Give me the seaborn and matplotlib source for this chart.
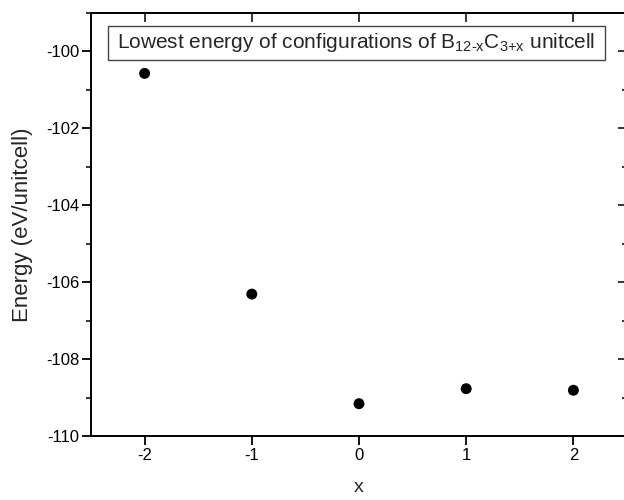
import numpy as np
import pandas as pd
import seaborn as sns
import matplotlib.pyplot as plt
from matplotlib.patches import Rectangle
from matplotlib.ticker import MultipleLocator

# Lowest energy per configuration
x_vals = [-2, -1, 0, 1, 2]
energy = [-100.57, -106.31, -109.16, -108.77, -108.81]

df = pd.DataFrame({'x': x_vals, 'energy': energy})

sns.set_style('ticks')
plt.rcParams['font.family'] = ['Liberation Sans', 'DejaVu Sans']
plt.rcParams['mathtext.fontset'] = 'custom'
plt.rcParams['mathtext.rm'] = 'Liberation Sans'
plt.rcParams['mathtext.it'] = 'Liberation Sans'
plt.rcParams['axes.unicode_minus'] = False

fig = plt.figure(figsize=(6.24, 5), dpi=100)
ax = fig.add_axes([91 / 624, 1 - 436 / 500, 536 / 624, 423 / 500])

sns.scatterplot(data=df, x='x', y='energy', color='black', s=62,
                edgecolor='none', ax=ax, zorder=3)

ax.set_xlim(-2.5, 2.5)
ax.set_ylim(-110, -99)
ax.set_xticks(x_vals)
ax.yaxis.set_major_locator(MultipleLocator(2))
ax.yaxis.set_minor_locator(MultipleLocator(1))

for side in ['left', 'right', 'top', 'bottom']:
    ax.spines[side].set_visible(True)
    ax.spines[side].set_linewidth(1.4)
    ax.spines[side].set_color('black')

ax.tick_params(axis='both', which='major', length=6.5, width=1.3, colors='black',
               labelsize=12, pad=2, direction='out', top=False, right=False)
ax.tick_params(axis='y', which='minor', length=3.5, width=1.3, direction='out',
               right=False)

# mirrored ticks on top and right point inward
top = ax.secondary_xaxis('top')
top.set_xticks(x_vals)
top.tick_params(direction='in', length=6.5, width=1.3, labeltop=False)
top.spines['top'].set_linewidth(1.4)
right = ax.secondary_yaxis('right')
right.yaxis.set_major_locator(MultipleLocator(2))
right.yaxis.set_minor_locator(MultipleLocator(1))
right.tick_params(which='major', direction='in', length=6.5, width=1.3, labelright=False)
right.tick_params(which='minor', direction='in', length=3.5, width=1.3)

ax.set_xlabel('x', fontsize=14, labelpad=12)
ax.set_ylabel('Energy (eV/unitcell)', fontsize=16, labelpad=9)

# caption box inside the plot
ax.add_patch(Rectangle((17 / 536, 1 - 47 / 423), 497 / 536, 34 / 423,
                       transform=ax.transAxes, facecolor='white',
                       edgecolor='#444444', linewidth=1.0, zorder=4))
ax.text(0.495, 1 - 30 / 423,
        r'Lowest energy of configurations of B$_{\mathrm{12\text{-}x}}$C$_{\mathrm{3{+}x}}$ unitcell',
        transform=ax.transAxes, ha='center', va='center', fontsize=15, zorder=5)

fig.savefig('out.png', dpi=100)
